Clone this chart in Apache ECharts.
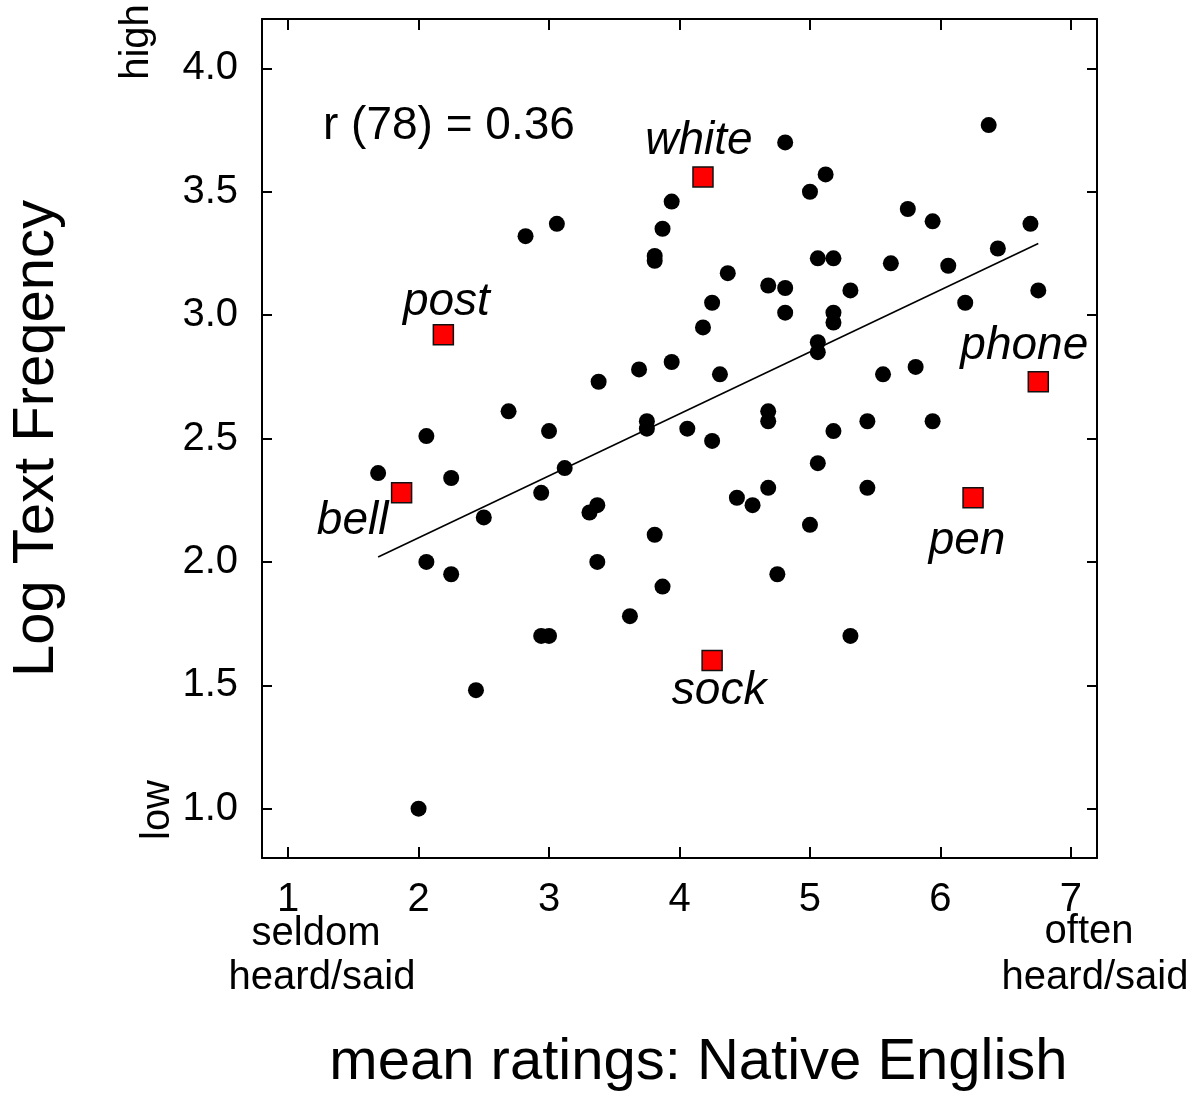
<!DOCTYPE html>
<html>
<head>
<meta charset="utf-8">
<script src="https://cdn.jsdelivr.net/npm/echarts@6/dist/echarts.min.js"></script>
<style>
  html, body { margin: 0; padding: 0; background: #fff; }
  #chart { width: 1193px; height: 1099px; }
</style>
</head>
<body>
<div id="chart"></div>
<script>
// Mean familiarity ratings (Native English) and log text frequency, one entry per word
const ratings = [
  1.69, 2.06, 2.25, 2.06, 2.25, 2.50, 2.44, 2.00, 2.69, 2.82,
  3.06, 3.00, 3.12, 2.94, 2.94, 3.00, 3.31, 3.37, 3.37, 3.38,
  3.62, 3.69, 3.75, 3.75, 3.81, 3.81, 3.81, 3.87, 3.87, 3.94,
  3.94, 4.06, 4.18, 4.25, 4.25, 4.31, 4.37, 4.44, 4.56, 4.68,
  4.68, 4.68, 4.68, 4.75, 4.81, 4.81, 4.81, 5.00, 5.00, 5.06,
  5.06, 5.06, 5.06, 5.12, 5.18, 5.18, 5.18, 5.18, 5.31, 5.31,
  5.44, 5.44, 5.56, 5.62, 5.75, 5.81, 5.94, 5.94, 6.06, 6.19,
  6.37, 6.44, 6.69, 6.75
];
const logFreq = [
  2.36, 2.51, 2.34, 2.00, 1.95, 2.18, 1.48, 1.00, 2.61, 3.32,
  3.37, 2.53, 2.38, 2.28, 1.70, 1.70, 2.20, 2.23, 2.00, 2.73,
  1.78, 2.78, 2.57, 2.54, 3.24, 3.22, 2.11, 3.35, 1.90, 3.46,
  2.81, 2.54, 2.95, 3.05, 2.49, 2.76, 3.17, 2.26, 2.23, 3.12,
  2.61, 2.57, 2.30, 1.95, 3.70, 3.11, 3.01, 3.50, 2.15, 3.23,
  2.89, 2.85, 2.40, 3.57, 3.23, 3.01, 2.97, 2.53, 3.10, 1.70,
  2.57, 2.30, 2.76, 3.21, 3.43, 2.79, 3.38, 2.57, 3.20, 3.05,
  3.77, 3.27, 3.37, 3.10
];

// Highlighted example words
const words = ['white', 'post', 'phone', 'bell', 'pen', 'sock'];
const wordRatings = [4.18, 2.19, 6.75, 1.87, 6.25, 4.25];
const wordFreq = [3.56, 2.92, 2.73, 2.28, 2.26, 1.60];

// Fitted regression line end points
const fitX = [1.69, 6.75];
const fitY = [2.02, 3.29];

// Axis ticks
const xTicks = [1, 2, 3, 4, 5, 6, 7];
const yTicks = [1.0, 1.5, 2.0, 2.5, 3.0, 3.5, 4.0];

const FONT = '"Liberation Sans", Arial, Helvetica, sans-serif';

// Where each word's label sits relative to its marker
const wordLabelOffset = {
  white: [-4, -36],
  post: [3, -33],
  phone: [-14, -36],
  bell: [-49, 28],
  pen: [-6, 43],
  sock: [7, 31]
};

const dots = ratings.map((x, i) => [x, logFreq[i]]);
const wordPoints = words.map((w, i) => ({
  name: w,
  value: [wordRatings[i], wordFreq[i]],
  label: { offset: wordLabelOffset[w] }
}));
const fitLine = fitX.map((x, i) => [x, fitY[i]]);

const chart = echarts.init(document.getElementById('chart'), null, { renderer: 'canvas' });

const axisLine = { show: true, onZero: false, lineStyle: { color: '#000', width: 2 } };

chart.setOption({
  animation: false,
  backgroundColor: '#fff',
  grid: { left: 258, top: 19, right: 96, bottom: 241, containLabel: false },
  xAxis: [
    {
      type: 'value', position: 'bottom', min: 0.8, max: 7.2,
      splitLine: { show: false },
      axisLine: axisLine,
      axisTick: { show: true, inside: true, length: 11, customValues: xTicks, lineStyle: { color: '#000', width: 2 } },
      axisLabel: { show: true, customValues: xTicks, margin: 22, color: '#000', fontSize: 40, fontFamily: FONT },
      name: 'mean ratings: Native English',
      nameLocation: 'middle', nameGap: 176,
      nameTextStyle: { color: '#000', fontSize: 58, fontFamily: FONT, padding: [0, 0, 0, 38] }
    },
    {
      type: 'value', position: 'top', min: 0.8, max: 7.2,
      splitLine: { show: false },
      axisLine: axisLine,
      axisTick: { show: true, inside: true, length: 11, customValues: xTicks, lineStyle: { color: '#000', width: 2 } },
      axisLabel: { show: false }
    }
  ],
  yAxis: [
    {
      type: 'value', position: 'left', min: 0.8, max: 4.2,
      splitLine: { show: false },
      axisLine: axisLine,
      axisTick: { show: true, inside: true, length: 10, customValues: yTicks, lineStyle: { color: '#000', width: 2 } },
      axisLabel: {
        show: true, customValues: yTicks, margin: 24, color: '#000', fontSize: 40, fontFamily: FONT,
        formatter: v => v.toFixed(1)
      },
      name: 'Log Text Freqency',
      nameLocation: 'middle', nameGap: 196,
      nameTextStyle: { color: '#000', fontSize: 58, fontFamily: FONT }
    },
    {
      type: 'value', position: 'right', min: 0.8, max: 4.2,
      splitLine: { show: false },
      axisLine: axisLine,
      axisTick: { show: true, inside: true, length: 10, customValues: yTicks, lineStyle: { color: '#000', width: 2 } },
      axisLabel: { show: false }
    }
  ],
  series: [
    {
      type: 'scatter', name: 'words', data: dots,
      symbol: 'circle', symbolSize: 16,
      itemStyle: { color: '#000', opacity: 1 },
      emphasis: { disabled: true },
      z: 2
    },
    {
      type: 'line', name: 'fit', data: fitLine,
      symbol: 'none',
      lineStyle: { color: '#000', width: 1.6, opacity: 1 },
      emphasis: { disabled: true },
      z: 3
    },
    {
      type: 'scatter', name: 'examples', data: wordPoints,
      symbol: 'rect', symbolSize: 20,
      itemStyle: { color: '#ff0000', borderColor: '#111', borderWidth: 1.5, opacity: 1 },
      label: {
        show: true, position: 'inside', formatter: '{b}',
        color: '#000', fontSize: 46, fontStyle: 'italic', fontFamily: FONT
      },
      emphasis: { disabled: true },
      z: 4
    }
  ],
  graphic: [
    { type: 'text', x: 323, y: 126, style: { text: 'r (78) = 0.36', font: '46px ' + FONT, fill: '#000', textAlign: 'left', textVerticalAlign: 'middle' } },
    { type: 'text', x: 137, y: 42, rotation: Math.PI / 2, style: { text: 'high', font: '40px ' + FONT, fill: '#000', textAlign: 'center', textVerticalAlign: 'middle' } },
    { type: 'text', x: 158, y: 810, rotation: Math.PI / 2, style: { text: 'low', font: '40px ' + FONT, fill: '#000', textAlign: 'center', textVerticalAlign: 'middle' } },
    { type: 'text', x: 316, y: 934, style: { text: 'seldom', font: '40px ' + FONT, fill: '#000', textAlign: 'center', textVerticalAlign: 'middle' } },
    { type: 'text', x: 322, y: 978, style: { text: 'heard/said', font: '40px ' + FONT, fill: '#000', textAlign: 'center', textVerticalAlign: 'middle' } },
    { type: 'text', x: 1089, y: 932, style: { text: 'often', font: '40px ' + FONT, fill: '#000', textAlign: 'center', textVerticalAlign: 'middle' } },
    { type: 'text', x: 1095, y: 978, style: { text: 'heard/said', font: '40px ' + FONT, fill: '#000', textAlign: 'center', textVerticalAlign: 'middle' } }
  ]
});
</script>
</body>
</html>
